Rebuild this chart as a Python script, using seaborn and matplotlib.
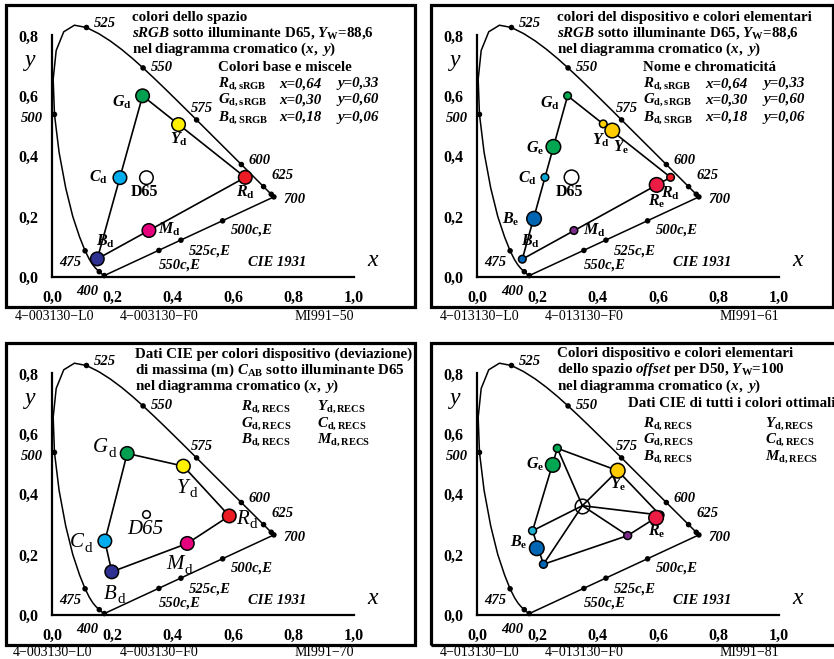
import matplotlib
matplotlib.use('Agg')
import matplotlib.pyplot as plt
from matplotlib.patches import Rectangle
import seaborn as sns

# CIE 1931 2-degree spectral locus
wavelengths = [400, 405, 410, 415, 420, 425, 430, 435, 440, 445, 450, 455, 460, 465,
               470, 475, 480, 485, 490, 495, 500, 505, 510, 515, 520, 525, 530, 535,
               540, 545, 550, 555, 560, 565, 570, 575, 580, 585, 590, 595, 600, 605,
               610, 615, 620, 625, 630, 635, 640, 645, 650, 655, 660, 665, 670, 680,
               690, 700]
locus_x = [0.1733, 0.1730, 0.1726, 0.1721, 0.1714, 0.1703, 0.1689, 0.1669, 0.1644,
           0.1611, 0.1566, 0.1510, 0.1440, 0.1355, 0.1241, 0.1096, 0.0913, 0.0687,
           0.0454, 0.0235, 0.0082, 0.0039, 0.0139, 0.0389, 0.0743, 0.1142, 0.1547,
           0.1929, 0.2296, 0.2658, 0.3016, 0.3373, 0.3731, 0.4087, 0.4441, 0.4788,
           0.5125, 0.5448, 0.5752, 0.6029, 0.6270, 0.6482, 0.6658, 0.6801, 0.6915,
           0.7006, 0.7079, 0.7140, 0.7190, 0.7230, 0.7260, 0.7283, 0.7300, 0.7311,
           0.7320, 0.7334, 0.7344, 0.7347]
locus_y = [0.0048, 0.0048, 0.0048, 0.0048, 0.0051, 0.0058, 0.0069, 0.0086, 0.0109,
           0.0138, 0.0177, 0.0227, 0.0297, 0.0399, 0.0578, 0.0868, 0.1327, 0.2007,
           0.2950, 0.4127, 0.5384, 0.6548, 0.7502, 0.8120, 0.8338, 0.8262, 0.8059,
           0.7816, 0.7543, 0.7243, 0.6923, 0.6589, 0.6245, 0.5896, 0.5547, 0.5202,
           0.4866, 0.4544, 0.4242, 0.3965, 0.3725, 0.3514, 0.3340, 0.3197, 0.3083,
           0.2993, 0.2920, 0.2859, 0.2809, 0.2770, 0.2740, 0.2717, 0.2700, 0.2689,
           0.2680, 0.2666, 0.2656, 0.2653]
marked_nm = [400, 450, 475, 500, 525, 550, 575, 600, 625, 650, 700]
compl_x = [0.565, 0.427, 0.354]
compl_y = [0.186, 0.122, 0.088]

# panel 1: sRGB base colours and mixtures
p1_names = ['G', 'Y', 'R', 'M', 'B', 'C', 'W']
p1_x = [0.300, 0.419, 0.640, 0.321, 0.150, 0.225, 0.3127]
p1_y = [0.600, 0.505, 0.330, 0.154, 0.060, 0.329, 0.329]
p1_col = ['#00a050', '#fff000', '#ec1c24', '#e6007e', '#2e3192', '#00aeef', '#ffffff']

# panel 2: device colours (small) and elementary colours (large)
p2_small = ['Gd', 'Yd', 'Cd', 'Rd', 'Md', 'Bd']
p2_small_x = [0.300, 0.418, 0.225, 0.641, 0.321, 0.150]
p2_small_y = [0.600, 0.507, 0.330, 0.330, 0.154, 0.059]
p2_small_col = ['#00a651', '#ffd200', '#00a6d6', '#ed1c24', '#7b2c8b', '#0066b3']
p2_large = ['Ge', 'Ye', 'Re', 'Be', 'W']
p2_large_x = [0.253, 0.448, 0.595, 0.189, 0.313]
p2_large_y = [0.431, 0.485, 0.305, 0.193, 0.330]
p2_large_col = ['#00a651', '#ffcc00', '#ed1c45', '#0066b3', '#ffffff']

# panel 3: RECS device colours
p3_names = ['G', 'Y', 'R', 'M', 'B', 'C']
p3_x = [0.249, 0.435, 0.587, 0.448, 0.198, 0.175]
p3_y = [0.535, 0.493, 0.328, 0.237, 0.143, 0.245]
p3_col = ['#00a050', '#fff000', '#ec1c24', '#e6007e', '#2e3192', '#00aeef']
p3_white = (0.310, 0.333)

# panel 4: offset space, D50
p4_small = ['G', 'R', 'M', 'B', 'C']
p4_small_x = [0.266, 0.606, 0.499, 0.220, 0.184]
p4_small_y = [0.552, 0.331, 0.263, 0.168, 0.279]
p4_small_col = ['#00a651', '#ed1c24', '#7b2c8b', '#0066b3', '#20b0d0']
p4_large = ['Ge', 'Ye', 'Re', 'Be']
p4_large_x = [0.251, 0.466, 0.593, 0.198]
p4_large_y = [0.497, 0.478, 0.322, 0.221]
p4_large_col = ['#00a651', '#ffcc00', '#ed1c45', '#0066b3']
p4_hex_x = [0.266, 0.466, 0.606, 0.499, 0.220, 0.184]
p4_hex_y = [0.552, 0.478, 0.331, 0.263, 0.168, 0.279]
p4_white = (0.349, 0.362)

x_ticks = [0.0, 0.2, 0.4, 0.6, 0.8, 1.0]
x_ticklabels = ['0,0', '0,2', '0,4', '0,6', '0,8', '1,0']
y_ticks = [0.0, 0.2, 0.4, 0.6, 0.8]
y_ticklabels = ['0,0', '0,2', '0,4', '0,6', '0,8']

sns.set_theme(style='white')
plt.rcParams['font.family'] = ['Liberation Serif', 'DejaVu Serif']
plt.rcParams['font.weight'] = 'bold'
plt.rcParams['text.color'] = 'black'
plt.rcParams['mathtext.fontset'] = 'custom'
plt.rcParams['mathtext.rm'] = 'Liberation Serif:bold'
plt.rcParams['mathtext.bf'] = 'Liberation Serif:bold'
plt.rcParams['mathtext.it'] = 'Liberation Serif:italic:bold'

W, H = 834, 659
SC = 302.0
FS = 10.8
fig = plt.figure(figsize=(W / 100, H / 100), dpi=100)
fig.patch.set_facecolor('white')


def panel(l, t, r, b):
    ax = fig.add_axes([l / W, 1 - b / H, (r - l) / W, (b - t) / H])
    ax.set_xlim(-0.1523, -0.1523 + (r - l) / SC)
    ax.set_ylim(-0.0993, 0.9007)
    ax.add_patch(Rectangle((0, 0), 1, 1, transform=ax.transAxes, fill=False,
                           lw=2.3, ec='black', clip_on=False, zorder=20))
    for s in ['top', 'right']:
        ax.spines[s].set_visible(False)
    ax.spines['left'].set_position(('data', 0))
    ax.spines['bottom'].set_position(('data', 0))
    ax.spines['left'].set_bounds(0, 0.8)
    ax.spines['bottom'].set_bounds(0, 1.0)
    for s in ['left', 'bottom']:
        ax.spines[s].set_color('black')
        ax.spines[s].set_linewidth(1.6)
    ax.set_xticks(x_ticks)
    ax.set_xticklabels(x_ticklabels)
    ax.set_yticks(y_ticks)
    ax.set_yticklabels(y_ticklabels)
    ax.tick_params(direction='inout', length=5, width=1.5, color='black',
                   labelsize=11.5, pad=7, labelcolor='black')
    for lab in ax.get_xticklabels() + ax.get_yticklabels():
        lab.set_fontweight('bold')

    # spectral locus and purple line
    sns.lineplot(x=locus_x + [locus_x[0]], y=locus_y + [locus_y[0]], sort=False,
                 estimator=None, color='black', lw=1.1, ax=ax)
    idx = [wavelengths.index(w) for w in marked_nm]
    sns.scatterplot(x=[locus_x[i] for i in idx] + compl_x,
                    y=[locus_y[i] for i in idx] + compl_y,
                    color='black', s=16, edgecolor='none', ax=ax, zorder=4)
    bi = dict(fontsize=10.5, fontstyle='italic', fontweight='bold', va='baseline')
    for txt, x, y in [('525', 0.139, 0.828), ('550', 0.328, 0.682), ('575', 0.46, 0.547),
                      ('600', 0.652, 0.374), ('625', 0.728, 0.325), ('700', 0.765, 0.245),
                      ('500', -0.103, 0.513), ('475', 0.023, 0.037), ('400', 0.079, -0.059),
                      ('500c,E', 0.593, 0.143), ('525c,E', 0.454, 0.073),
                      ('550c,E', 0.354, 0.027), ('CIE 1931', 0.649, 0.037)]:
        ax.text(x, y, txt, ha='left', **bi)
    ax.text(1.063, 0.035, 'x', ha='center', va='baseline', fontsize=17,
            fontstyle='italic', fontweight='normal')
    ax.text(-0.073, 0.699, 'y', ha='center', va='baseline', fontsize=17,
            fontstyle='italic', fontweight='normal')
    return ax


def lbl(ax, x, y, s, size=11.5, **kw):
    ax.text(x, y - 0.013, s, ha='center', va='baseline', fontsize=size, **kw)


def thin_lbl(ax, x, y, main, sub, size=15):
    # light italic letter with upright subscript
    yb = y - 0.018
    ax.annotate(main, (x, yb), xytext=(2.2, 0), textcoords='offset points',
                ha='right', va='baseline', fontsize=size, fontstyle='italic',
                fontweight='normal')
    ax.annotate(sub, (x, yb), xytext=(2.6, -3.2), textcoords='offset points',
                ha='left', va='baseline', fontsize=size * 0.72, fontweight='normal')


def lines(ax, xs, ys):
    ax.plot(xs, ys, color='black', lw=1.2, zorder=2)


def dots(ax, names, xs, ys, cols, s):
    sns.scatterplot(x=xs, y=ys, hue=names, palette=dict(zip(names, cols)), s=s,
                    edgecolor='black', linewidth=1.1, legend=False, ax=ax, zorder=5)


def header(ax, x, lines_txt, y0=0.848, step=0.053):
    for k, t in enumerate(lines_txt):
        ax.text(x, y0 - k * step, t, ha='left', va='baseline', fontsize=FS)


def footer(xs, y, texts):
    for x, t in zip(xs, texts):
        fig.text(x / W, 1 - y / H, t, ha='left', va='center', fontsize=10,
                 fontweight='normal')


# ---- panel 1
ax1 = panel(6, 5, 415, 307)
lines(ax1, [p1_x[0], p1_x[2], p1_x[4], p1_x[0]], [p1_y[0], p1_y[2], p1_y[4], p1_y[0]])
dots(ax1, p1_names, p1_x, p1_y, p1_col, 95)
header(ax1, 0.265, ['colori dello spazio',
                    r'$sRGB$ sotto illuminante D65, $Y_\mathrm{W}$=88,6',
                    r'nel diagramma cromatico $(x,\ y)$'])
ax1.text(0.55, 0.682, 'Colori base e miscele', fontsize=FS, va='baseline')
rows = [(r'$R_\mathrm{d,sRGB}$', 'x=0,64', 'y=0,33'),
        (r'$G_\mathrm{d,sRGB}$', 'x=0,30', 'y=0,60'),
        (r'$B_\mathrm{d,SRGB}$', 'x=0,18', 'y=0,06')]
for k, (a, b_, c) in enumerate(rows):
    yy = [0.629, 0.576, 0.517][k]
    ax1.text(0.55, yy, a, fontsize=FS, va='baseline')
    ax1.text(0.752, yy, b_, fontsize=FS, va='baseline', fontstyle='italic')
    ax1.text(0.944, yy, c, fontsize=FS, va='baseline', fontstyle='italic')
for x, y, s in [(0.23, 0.576, r'$G_\mathrm{d}$'), (0.422, 0.454, r'$Y_\mathrm{d}$'),
                (0.154, 0.328, r'$C_\mathrm{d}$'), (0.306, 0.281, 'D65'),
                (0.641, 0.278, r'$R_\mathrm{d}$'), (0.387, 0.156, r'$M_\mathrm{d}$'),
                (0.177, 0.116, r'$B_\mathrm{d}$')]:
    lbl(ax1, x, y, s)
footer([15, 120, 295], 316, ['4−003130−L0', '4−003130−F0', 'MI991−50'])

# ---- panel 2
ax2 = panel(431, 5, 833, 307)
lines(ax2, [0.300, 0.641, 0.150, 0.300], [0.600, 0.330, 0.059, 0.600])
dots(ax2, p2_small, p2_small_x, p2_small_y, p2_small_col, 30)
dots(ax2, p2_large, p2_large_x, p2_large_y, p2_large_col, 110)
header(ax2, 0.264, ['colori del dispositivo e colori elementari',
                    r'$sRGB$ sotto illuminante D65, $Y_\mathrm{W}$=88,6',
                    r'nel diagramma cromatico $(x,\ y)$'])
ax2.text(0.55, 0.682, 'Nome e chromaticitá', fontsize=FS, va='baseline')
for k, (a, b_, c) in enumerate(rows):
    yy = [0.629, 0.576, 0.517][k]
    ax2.text(0.55, yy, a, fontsize=FS, va='baseline')
    ax2.text(0.755, yy, b_, fontsize=FS, va='baseline', fontstyle='italic')
    ax2.text(0.948, yy, c, fontsize=FS, va='baseline', fontstyle='italic')
for x, y, s in [(0.242, 0.575, r'$G_\mathrm{d}$'), (0.192, 0.426, r'$G_\mathrm{e}$'),
                (0.167, 0.325, r'$C_\mathrm{d}$'), (0.306, 0.282, 'D65'),
                (0.411, 0.451, r'$Y_\mathrm{d}$'), (0.476, 0.429, r'$Y_\mathrm{e}$'),
                (0.642, 0.277, r'$R_\mathrm{d}$'), (0.595, 0.249, r'$R_\mathrm{e}$'),
                (0.111, 0.189, r'$B_\mathrm{e}$'), (0.177, 0.117, r'$B_\mathrm{d}$'),
                (0.389, 0.153, r'$M_\mathrm{d}$')]:
    lbl(ax2, x, y, s)
footer([440, 545, 720], 316, ['4−013130−L0', '4−013130−F0', 'MI991−61'])

# ---- panel 3
ax3 = panel(6, 343, 415, 645)
lines(ax3, p3_x + [p3_x[0]], p3_y + [p3_y[0]])
dots(ax3, p3_names, p3_x, p3_y, p3_col, 95)
ax3.plot([p3_white[0]], [p3_white[1]], 'o', ms=5.5, mfc='white', mec='black',
         mew=1.1, zorder=5)
header(ax3, 0.275, ['Dati CIE per colori dispositivo (deviazione)',
                    r'di massima (m) $C_\mathrm{AB}$ sotto illuminante D65',
                    r'nel diagramma cromatico $(x,\ y)$'], y0=0.853)
recs_l = [r'$R_\mathrm{d,RECS}$', r'$G_\mathrm{d,RECS}$', r'$B_\mathrm{d,RECS}$']
recs_r = [r'$Y_\mathrm{d,RECS}$', r'$C_\mathrm{d,RECS}$', r'$M_\mathrm{d,RECS}$']
for k in range(3):
    yy = [0.679, 0.622, 0.569][k]
    ax3.text(0.625, yy, recs_l[k], fontsize=FS, va='baseline')
    ax3.text(0.876, yy, recs_r[k], fontsize=FS, va='baseline')
for x, y, m in [(0.175, 0.557, 'G'), (0.443, 0.423, 'Y'), (0.643, 0.320, 'R'),
                (0.427, 0.169, 'M'), (0.205, 0.072, 'B'), (0.096, 0.243, 'C')]:
    thin_lbl(ax3, x, y, m, 'd')
ax3.text(0.310, 0.287 - 0.018, 'D65', ha='center', va='baseline', fontsize=15,
         fontweight='normal', fontstyle='italic')
footer([13, 120, 295], 652, ['4−003130−L0', '4−003130−F0', 'MI991−70'])

# ---- panel 4
ax4 = panel(431, 343, 838, 645)
lines(ax4, p4_hex_x + [p4_hex_x[0]], p4_hex_y + [p4_hex_y[0]])
for hx, hy in zip(p4_hex_x, p4_hex_y):
    lines(ax4, [p4_white[0], hx], [p4_white[1], hy])
dots(ax4, p4_small, p4_small_x, p4_small_y, p4_small_col, 32)
dots(ax4, p4_large, p4_large_x, p4_large_y, p4_large_col, 110)
ax4.plot([p4_white[0]], [p4_white[1]], 'o', ms=10.5, mfc='none', mec='black',
         mew=1.1, zorder=5)
header(ax4, 0.264, ['Colori dispositivo e colori elementari',
                    r'dello spazio $offset$ per D50, $Y_\mathrm{W}$=100',
                    r'nel diagramma cromatico $(x,\ y)$'], y0=0.853)
ax4.text(0.501, 0.688, 'Dati CIE di tutti i colori ottimali', fontsize=FS,
         va='baseline')
for k in range(3):
    yy = [0.622, 0.569, 0.513][k]
    ax4.text(0.551, yy, recs_l[k], fontsize=FS, va='baseline')
    ax4.text(0.954, yy, recs_r[k], fontsize=FS, va='baseline')
for x, y, s in [(0.192, 0.497, r'$G_\mathrm{e}$'), (0.468, 0.430, r'$Y_\mathrm{e}$'),
                (0.595, 0.276, r'$R_\mathrm{e}$'), (0.137, 0.241, r'$B_\mathrm{e}$')]:
    lbl(ax4, x, y, s)
footer([440, 545, 720], 652, ['4−013130−L0', '4−013130−F0', 'MI991−81'])

fig.savefig('out.png', dpi=100)
